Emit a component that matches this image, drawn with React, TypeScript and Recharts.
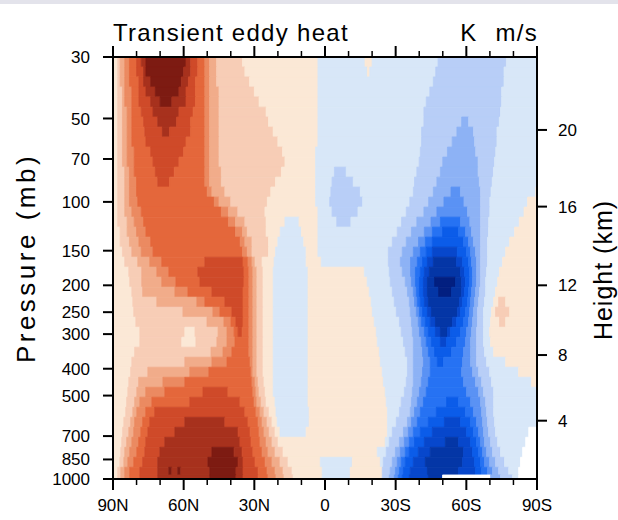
import React from 'react';
import { ComposedChart, XAxis, YAxis, ReferenceArea } from 'recharts';

// ---- axis data ----
const pressureTicks = [30, 50, 70, 100, 150, 200, 250, 300, 400, 500, 700, 850, 1000];
const heightKm = [4, 8, 12, 16, 20];
const heightPressure = [616, 357, 200, 104, 55];
const latMajor = [90, 60, 30, 0, -30, -60, -90];
const latMinor = [90, 80, 70, 60, 50, 40, 30, 20, 10, 0, -10, -20, -30, -40, -50, -60, -70, -80, -90];

// ---- contour level colours (level 1..8 positive, -1..-9 negative, 0 = missing) ----
const redColors = ['#FBE8D6', '#F7CDB6', '#F1AC8A', '#EB8A61', '#E4673B', '#CF4A29', '#A7311D', '#7D1B12'];
const blueColors = ['#D8E7F8', '#B8CEF7', '#8DB2F5', '#5A92F4', '#2672F3', '#0B5CE9', '#0747CC', '#0436A6', '#021F80'];

// pressure band edges (mb), top to bottom
const pressureEdges = [30, 32.6, 35.4, 38.5, 41.8, 45.5, 49.4, 53.7, 58.3, 63.4, 68.9, 74.9, 81.4, 88.4, 96.1, 104.4,
  113.5, 123.3, 134.0, 145.6, 158.3, 172.0, 186.9, 203.1, 220.7, 239.9, 260.7, 283.3, 307.8, 334.5, 363.5, 395.0,
  429.3, 466.5, 506.9, 550.9, 598.6, 650.5, 706.9, 768.2, 834.8, 907.2, 967, 1000];

// each band: "level:endLatitude" runs from 90N (positive) to 90S (negative)
const rowLevels = [
  '1:88 2:87 3:85 4:83 5:80 6:78 7:76 8:59 7:57 6:54 5:51 4:49 3:46 2:35 1:3 -1:-17 1:-20 -1:-48 -2:-77 -1:-90',
  '1:88 2:87 3:85 4:83 5:80 6:77 7:76 8:60 7:57 6:54 5:51 4:49 3:46 2:34 1:3 -1:-18 1:-19 -1:-47 -2:-76 -1:-90',
  '1:88 2:87 3:85 4:83 5:79 6:77 7:74 8:61 7:58 6:55 5:51 4:49 3:46 2:32 1:3 -1:-46 -2:-76 -1:-90',
  '1:88 2:86 3:85 4:82 5:79 6:76 7:72 8:62 7:59 6:55 5:51 4:49 3:45 2:30 1:3 -1:-44.5 -2:-75 -1:-90',
  '1:88 2:86 3:85 4:82 5:79 6:74 7:70 8:65 7:59 6:55 5:51 4:49 3:45 2:28 1:3 -1:-43 -2:-75 -1:-90',
  '1:88 2:86 3:84 4:82 5:78 6:73 7:62 6:56 5:51 4:49 3:45 2:25 1:3 -1:-42 -2:-74.5 -1:-90',
  '1:88 2:86 3:84 4:82 5:77 6:71 7:63 6:57 5:51 4:49 3:45 2:24 1:3 -1:-42 -2:-58 -3:-61 -2:-74 -1:-90',
  '1:88 2:86 3:84 4:82 5:76.5 6:69 7:66 6:57 5:51 4:49 3:45 2:22 1:3 -1:-41 -2:-56 -3:-63 -2:-73 -1:-90',
  '1:88 2:86 3:84 4:82 5:76 6:59 5:51 4:49 3:45 2:20 1:3 -1:-41 -2:-54 -3:-63.5 -2:-73 -1:-90',
  '1:88 2:86 3:84 4:81 5:74 6:60 5:51 4:49 3:45 2:18 1:4 -1:-40.5 -2:-52 -3:-64 -2:-72.5 -1:-90',
  '1:88 2:86 3:84 4:81 5:73 6:62 5:51 4:49 3:45 2:17 1:4 -1:-40 -2:-50 -3:-65 -2:-72 -1:-90',
  '1:88 2:85 3:83 4:81 5:72 6:64 5:51 4:49 3:44 2:18.5 1:4 -1:-4 -2:-9 -1:-39 -2:-49 -3:-65 -2:-71.5 -1:-90',
  '1:88 2:85 3:83 4:80 5:71 6:66 5:51 4:49 3:44 2:21 1:4 -1:-3 -2:-12 -1:-38 -2:-47.5 -3:-65.5 -2:-71 -1:-90',
  '1:88 2:85 3:83 4:80 5:50 4:48 3:42.5 2:23 1:4 -1:-2.5 -2:-15 -1:-37.5 -2:-46 -3:-53.5 -4:-57.5 -3:-66 -2:-70.5 -1:-89.5 1:-90',
  '1:88 2:85 3:83 4:79.5 5:47 4:45 3:40 2:24.5 1:4 -1:-2 -2:-16 -1:-36 -2:-44 -3:-50.5 -4:-59 -3:-66 -2:-70 -1:-86 1:-90',
  '1:88 2:85 3:82 4:78 5:44 4:41 3:37 2:25.5 1:3 -1:-3 -2:-14 -1:-34.5 -2:-42 -3:-47.5 -4:-60.5 -3:-66 -2:-70 -1:-84.5 1:-90',
  '1:88 2:84 3:81 4:77 5:41 4:38 3:34 2:25 1:17 -1:11 1:3 -1:-5 -2:-11 -1:-32.5 -2:-39 -3:-45 -4:-49 -5:-57.5 -4:-61.5 -3:-66 -2:-69.5 -1:-82.5 1:-90',
  '1:87 2:84 3:80 4:76 5:38 4:35 3:33 2:25 1:19 -1:10 1:3 -1:-30.7 -2:-36.7 -3:-42.2 -4:-45.6 -5:-49.9 -6:-56.7 -5:-59.7 -4:-62.2 -3:-66 -2:-69.4 -1:-80.5 1:-90',
  '1:87 2:83 3:79 4:74 5:36 4:34 3:31 2:24 1:20 -1:9 1:3 -1:-28.6 -2:-34.5 -3:-39.7 -4:-42.6 -5:-45.6 -6:-58.8 -5:-60.9 -4:-63 -3:-66 -2:-69 -1:-78.4 1:-90',
  '1:86 2:82 3:78 4:73 5:35 4:33 3:31 2:24 1:21 -1:8 1:3 -1:-26.9 -2:-32.8 -3:-37.5 -4:-40.5 -5:-43 -6:-45.6 -7:-56.2 -6:-60.1 -5:-61.8 -4:-63.9 -3:-66 -2:-69 -1:-76.7 1:-90',
  '1:85 2:79.5 3:74.4 4:69.3 5:51 6:34.8 5:32.7 4:31 3:29.7 2:26.7 1:21.6 -1:8 1:1.6 -1:-26.9 -2:-32 -3:-36.3 -4:-39.2 -5:-41.4 -6:-43.5 -7:-46 -8:-55.8 -7:-58.4 -6:-60.9 -5:-62.2 -4:-64.3 -3:-66 -2:-69 -1:-75.4 1:-90',
  '1:83.3 2:77.8 3:71.4 4:66.3 5:54 6:34.4 5:32.3 4:30.6 3:28.9 2:26.3 1:22 -1:7.2 1:-16.7 -1:-27.3 -2:-32.8 -3:-36.3 -4:-38.4 -5:-40.5 -6:-42.2 -7:-44.3 -8:-57.5 -7:-59.2 -6:-61.4 -5:-62.6 -4:-64.3 -3:-66 -2:-68.6 -1:-74.1 1:-90',
  '1:82.9 2:77.8 3:69.3 4:63.3 5:53.1 6:34.4 5:32.3 4:30.6 3:28.9 2:26.3 1:22 -1:7.2 1:-17.9 -1:-27.7 -2:-34.1 -3:-36.7 -4:-38.4 -5:-40.1 -6:-41.8 -7:-43.5 -8:-46.5 -9:-55.4 -8:-58 -7:-59.6 -6:-61.4 -5:-62.6 -4:-64.3 -3:-66 -2:-68.2 -1:-73.3 1:-90',
  '1:82 2:77.4 3:63.7 4:58.2 5:48 6:34.8 5:32.3 4:30.6 3:28.9 2:26.3 1:22 -1:7.2 1:-18.8 -1:-28.6 -2:-35 -3:-37.5 -4:-38.8 -5:-40.1 -6:-41.8 -7:-43.5 -8:-48.2 -9:-53.7 -8:-58 -7:-59.2 -6:-60.9 -5:-62.2 -4:-63.9 -3:-65.6 -2:-68.2 -1:-72.4 1:-90',
  '1:81.6 2:71.4 3:54.4 4:51 5:42.5 6:34.8 5:32.3 4:30.6 3:28.9 2:26.3 1:22 -1:7.2 1:-19.6 -1:-29.4 -2:-35.8 -3:-38 -4:-39.2 -5:-40.5 -6:-42.2 -7:-43.9 -8:-57.1 -7:-58.4 -6:-60.5 -5:-61.8 -4:-63.5 -3:-65.2 -2:-67.7 -1:-71.6 1:-73.7 2:-76.7 1:-90',
  '1:81.2 2:60.3 3:47.6 4:44.6 5:39.5 6:34.8 5:32.3 4:30.6 3:28.9 2:26.3 1:22 -1:7.2 1:-20.1 -1:-30.3 -2:-36.2 -3:-38.8 -4:-40.1 -5:-41.4 -6:-43.5 -7:-45.2 -8:-56.2 -7:-57.5 -6:-59.6 -5:-61.4 -4:-63 -3:-64.7 -2:-67.3 -1:-70.7 1:-72.4 2:-78.4 1:-90',
  '1:80.3 2:50.1 3:42.9 4:39.9 5:37.8 6:34.8 5:32.3 4:30.6 3:28.9 2:26.3 1:22 -1:7.2 1:-20.9 -1:-31.6 -2:-36.7 -3:-39.6 -4:-40.9 -5:-42.6 -6:-44.7 -7:-46.9 -8:-54.1 -7:-55.8 -6:-58.8 -5:-60.9 -4:-62.6 -3:-64.7 -2:-67.3 -1:-70.3 1:-74.1 2:-76.7 1:-90',
  '1:78.6 2:59.5 1:55.2 2:45.4 3:41.6 4:38.6 5:36.9 6:35.2 5:32.3 4:30.6 3:28.9 2:26.3 1:22 -1:7.2 1:-21.8 -1:-32.4 -2:-37.1 -3:-40.1 -4:-42.2 -5:-43.9 -6:-46.9 -7:-49 -8:-52 -7:-53.3 -6:-57.5 -5:-60.1 -4:-62.2 -3:-64.3 -2:-67.3 -1:-69.9 1:-90',
  '1:78.6 2:60.8 1:54.8 2:45.9 3:41.6 4:38.2 5:32.3 4:30.6 3:28.9 2:26.3 1:22 -1:7.2 1:-22.2 -1:-33.3 -2:-37.5 -3:-40.9 -4:-43 -5:-45.2 -6:-49 -7:-51.6 -6:-55.8 -5:-59.6 -4:-61.8 -3:-64.3 -2:-67.3 -1:-70.3 1:-90',
  '1:80.8 2:48.4 3:43.3 4:39.5 5:32.3 4:30.6 3:28.9 2:26.3 1:22 -1:7.2 1:-23.1 -1:-34.1 -2:-37.5 -3:-41.4 -4:-43.9 -5:-46.5 -6:-53.7 -5:-58.8 -4:-61.8 -3:-64.3 -2:-67.7 -1:-71.6 1:-90',
  '1:82 2:59.5 3:48 4:41.6 5:31.8 4:30.6 3:28.9 2:26.3 1:22 -1:7.2 1:-23.5 -1:-35 -2:-37.5 -3:-41.8 -4:-44.7 -5:-47.7 -6:-50.3 -5:-58.4 -4:-61.8 -3:-64.3 -2:-68.6 -1:-76.7 1:-90',
  '1:82.5 2:75.2 3:57.4 4:49.3 5:31.4 4:30.6 3:28.9 2:26.3 1:22 -1:7.2 1:-24.3 -1:-35 -2:-37.5 -3:-41.4 -4:-44.7 -5:-58 -4:-62.6 -3:-65.2 -2:-69.9 -1:-82.2 1:-90',
  '1:83.3 2:79.1 3:68.8 4:59.5 5:31 4:29.7 3:28.4 2:25.9 1:22 -1:7.2 1:-24.8 -1:-34.5 -2:-37.5 -3:-40.9 -4:-43.9 -5:-58.8 -4:-63.9 -3:-66.5 -2:-70.7 -1:-87.7 1:-90',
  '1:83.7 2:79.9 3:76.1 4:68 5:51.8 6:41.2 5:30.6 4:29.3 3:28 2:25.4 1:22 -1:7.2 1:-25.6 -1:-33.7 -2:-37.1 -3:-40.1 -4:-43 -5:-60.1 -4:-65.2 -3:-67.3 -2:-71.6 -1:-90',
  '1:84.2 2:80.8 3:78.6 4:73.5 5:57.4 6:36.1 5:30.1 4:28.9 3:27.1 2:25 1:21.2 -1:7.2 1:-26 -1:-32.4 -2:-36.7 -3:-39.2 -4:-41.8 -5:-51.6 -6:-56.7 -5:-61.8 -4:-66 -3:-68.2 -2:-71.6 -1:-90',
  '1:84.6 2:81.6 3:79.9 4:76.1 5:72.3 6:34 5:29.3 4:27.6 3:25.9 2:23.7 1:20.8 -1:6.7 1:-26.5 -1:-31.6 -2:-36.2 -3:-38 -4:-40.5 -5:-47.3 -6:-59.6 -5:-63 -4:-66.5 -3:-68.6 -2:-71.6 -1:-90',
  '1:85.4 2:82.5 3:80.8 4:77.4 5:74.4 6:59.5 7:42.5 6:32.7 5:28.4 4:26.7 3:24.6 2:22.5 1:20.3 -1:6.7 1:-26.5 -1:-30.3 -2:-35 -3:-36.7 -4:-39.2 -5:-43.9 -6:-50.7 -7:-57.5 -6:-61.8 -5:-64.3 -4:-66.9 -3:-69 -2:-72 -1:-90',
  '1:85.9 2:83.3 3:81.2 4:78.2 5:75.2 6:63.7 7:36.9 6:31.8 5:28 4:25.9 3:23.7 2:21.2 1:19.1 -1:8 1:-26.5 -1:-28.6 -2:-33.3 -3:-35.4 -4:-37.5 -5:-40.5 -6:-45.6 -7:-60.1 -6:-63 -5:-65.2 -4:-67.3 -3:-69.4 -2:-72.4 -1:-86.5 0:-90',
  '1:86.3 2:84.2 3:82 4:79.1 5:76.1 6:68 7:36.1 6:31.4 5:27.6 4:25 3:22.5 2:19.9 1:-25.6 -1:-27.3 -2:-31.6 -3:-33.7 -4:-35.8 -5:-38 -6:-42.2 -7:-51.1 -8:-56.7 -7:-61.8 -6:-64.3 -5:-66 -4:-67.7 -3:-70.3 -2:-73.3 -1:-85.2 0:-90',
  '1:86.7 2:85 3:82.9 4:79.9 5:76.5 6:70.1 7:48 8:38.6 7:35.2 6:30.6 5:26.7 4:24.2 3:21.2 2:17.8 1:-22.2 -1:-26 -2:-29.9 -3:-32 -4:-34.1 -5:-35.8 -6:-39.6 -7:-44.7 -8:-58.8 -7:-62.6 -6:-65.2 -5:-66.9 -4:-68.6 -3:-71.1 -2:-74.5 -1:-83.9 0:-90',
  '1:87.1 2:85.4 3:83.7 4:81.2 5:77.4 6:71 7:49.7 8:36.9 7:34.8 6:29.7 5:25.4 4:22.5 3:19.1 2:15.7 1:2 -1:-11.6 1:-23.5 -1:-24.8 -2:-28.6 -3:-30.7 -4:-32.4 -5:-34.1 -6:-37.5 -7:-42.6 -8:-58.4 -7:-63.5 -6:-66 -5:-67.7 -4:-69.9 -3:-72.4 -2:-76.2 -1:-83 0:-90',
  '1:88 2:86.7 3:85 4:82.9 5:78.6 6:71 7:66.3 8:65 7:62.5 8:61.2 7:48.9 8:37.8 7:34.8 6:28.4 5:24.6 4:21.2 3:17.8 2:14 1:1.2 -1:-10.7 1:-24.3 -2:-27.7 -3:-29.9 -4:-31.6 -5:-33.3 -6:-36.2 -7:-43.5 -8:-56.7 -7:-63.9 -6:-66.5 -5:-69 -4:-71.1 -3:-73.7 -2:-78 -1:-82.2 0:-90',
  '1:88 2:86.7 3:85 4:82.9 5:78.6 6:71 7:48.9 8:37.8 7:34.8 6:28.4 5:24.2 4:20.8 3:17.4 2:13.5 1:1.2 -1:-10.7 1:-24.3 -2:-27.3 -3:-29.4 -4:-31.1 -5:-32.8 -6:-35.8 -7:-43.9 -8:-49.9 0:-70.3 -3:-74.5 -2:-79.6 -1:-82.2 0:-90',
];

const FONT = "'Liberation Sans', Arial, Helvetica, sans-serif";

function levelColor(lv: number): string {
  if (lv > 0) return redColors[lv - 1];
  if (lv < 0) return blueColors[-lv - 1];
  return '#FFFFFF';
}

type Cell = { key: string; x1: number; x2: number; y1: number; y2: number; color: string };

function buildCells(): Cell[] {
  const cells: Cell[] = [];
  rowLevels.forEach((row, k) => {
    let start = 90;
    row.trim().split(/\s+/).forEach((tok, i) => {
      const [lv, end] = tok.split(':').map(Number);
      cells.push({
        key: `${k}-${i}`,
        x1: start,
        x2: end,
        y1: pressureEdges[k],
        y2: pressureEdges[k + 1],
        color: levelColor(lv),
      });
      start = end;
    });
  });
  return cells;
}

const cells = buildCells();
// axis anchor rows so that both axes get a full numeric extent from data
const chartData = latMinor.map((lat, i) => ({ lat, p: pressureTicks[i % pressureTicks.length] }));

function latLabel(v: number): string {
  if (v === 0) return '0';
  return v > 0 ? `${v}N` : `${-v}S`;
}

const BottomTick = (props: any) => {
  const { x, y, payload } = props;
  const v = payload.value;
  const major = latMajor.includes(v);
  return (
    <g>
      <line x1={x} x2={x} y1={y} y2={y + (major ? 11 : 6)} stroke="#000" strokeWidth={major ? 2 : 1.5} />
      {major && (
        <text x={x} y={y + 20} dy="0.71em" textAnchor="middle" fill="#000" fontSize={17} fontFamily={FONT}>
          {latLabel(v)}
        </text>
      )}
    </g>
  );
};

const TopTick = (props: any) => {
  const { x, y, payload } = props;
  const v = payload.value;
  const major = latMajor.includes(v);
  return <line x1={x} x2={x} y1={y} y2={y - (major ? 11 : 6)} stroke="#000" strokeWidth={major ? 2 : 1.5} />;
};

const MARGIN = { top: 56, right: 41, bottom: 11, left: 53 };

// builds the four axes; when `show` is false they only provide the scales
function axes(show: boolean) {
  const axisLine = show ? { stroke: '#000', strokeWidth: 2 } : false;
  const tl = show ? { stroke: '#000', strokeWidth: 2 } : false;
  const tickStyle = { fill: '#000', fontSize: 17, fontFamily: FONT };
  return [
    <XAxis
      key="xb"
      xAxisId="x"
      dataKey="lat"
      type="number"
      scale="linear"
      domain={[-90, 90]}
      reversed
      allowDataOverflow
      ticks={latMinor}
      interval={0}
      tickLine={false}
      tickSize={0}
      tickMargin={0}
      tick={show ? BottomTick : false}
      height={30}
      axisLine={axisLine}
    />,
    <XAxis
      key="xt"
      xAxisId="top"
      dataKey="lat"
      orientation="top"
      type="number"
      scale="linear"
      domain={[-90, 90]}
      reversed
      allowDataOverflow
      ticks={latMinor}
      interval={0}
      tickLine={false}
      tickSize={0}
      tickMargin={0}
      tick={show ? TopTick : false}
      height={1}
      axisLine={axisLine}
    />,
    <YAxis
      key="yl"
      yAxisId="p"
      dataKey="p"
      type="number"
      scale="log"
      domain={[30, 1000]}
      reversed
      allowDataOverflow
      ticks={pressureTicks}
      interval={0}
      width={60}
      tickSize={10}
      tickMargin={13}
      axisLine={axisLine}
      tickLine={tl}
      tick={show ? tickStyle : false}
    />,
    <YAxis
      key="yr"
      yAxisId="h"
      dataKey="p"
      orientation="right"
      type="number"
      scale="log"
      domain={[30, 1000]}
      reversed
      allowDataOverflow
      ticks={heightPressure}
      interval={0}
      tickFormatter={(v: number) => String(heightKm[heightPressure.indexOf(v)])}
      width={40}
      tickSize={10}
      tickMargin={11}
      axisLine={axisLine}
      tickLine={tl}
      tick={show ? tickStyle : false}
    />,
  ];
}

export default function App() {
  return (
    <div style={{ position: 'absolute', left: 0, top: 0, width: 618, height: 520, background: '#fff' }}>
      <div style={{ position: 'absolute', left: 0, top: 0 }}>
        <ComposedChart width={618} height={520} data={chartData} margin={MARGIN}>
          {axes(false)}
          {cells.map((c) => (
            <ReferenceArea
              key={c.key}
              xAxisId="x"
              yAxisId="p"
              x1={c.x1}
              x2={c.x2}
              y1={c.y1}
              y2={c.y2}
              fill={c.color}
              fillOpacity={1}
              stroke={c.color}
              strokeWidth={0.8}
              ifOverflow="visible"
            />
          ))}
        </ComposedChart>
      </div>
      <div style={{ position: 'absolute', left: 0, top: 0 }}>
        <ComposedChart width={618} height={520} data={chartData} margin={MARGIN}>
          {axes(true)}
        </ComposedChart>
      </div>
      <svg width={618} height={520} style={{ position: 'absolute', left: 0, top: 0, pointerEvents: 'none' }}>
        <rect x={0} y={0} width={618} height={4} fill="#E3E3EB" />
        <text x={113} y={41} fontSize={24} fontFamily={FONT} fill="#000" letterSpacing={1.3}>
          Transient eddy heat
        </text>
        <text x={538} y={41} fontSize={24} fontFamily={FONT} fill="#000" textAnchor="end" letterSpacing={1.3} wordSpacing={10}>
          K m/s
        </text>
        <text
          x={26}
          y={258}
          fontSize={26}
          fontFamily={FONT}
          fill="#000"
          textAnchor="middle"
          dominantBaseline="central"
          letterSpacing={3.5}
          transform="rotate(-90 26 258)"
        >
          Pressure (mb)
        </text>
        <text
          x={603}
          y={270}
          fontSize={25}
          fontFamily={FONT}
          fill="#000"
          textAnchor="middle"
          dominantBaseline="central"
          letterSpacing={1}
          transform="rotate(-90 603 270)"
        >
          Height (km)
        </text>
      </svg>
    </div>
  );
}
